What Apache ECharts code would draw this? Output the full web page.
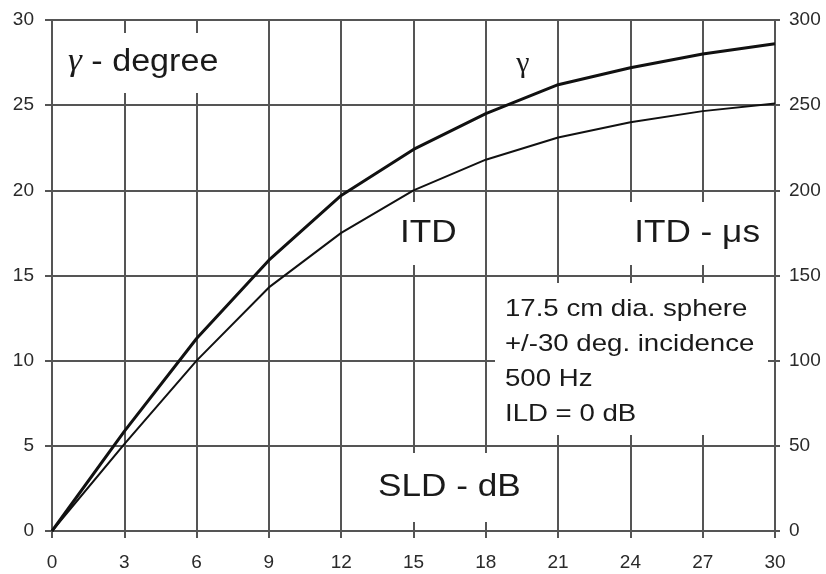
<!DOCTYPE html>
<html>
<head>
<meta charset="utf-8">
<script src="https://cdn.jsdelivr.net/npm/echarts@6/dist/echarts.min.js"></script>
<style>html,body{margin:0;padding:0;background:#fff;}#c{width:826px;height:574px;}</style>
</head>
<body>
<div id="c"></div>
<script>
// SLD - dB
const sld = [0, 3, 6, 9, 12, 15, 18, 21, 24, 27, 30];
// gamma - degree (left axis)
const gamma = [0, 5.85, 11.3, 15.9, 19.7, 22.4, 24.5, 26.2, 27.2, 28.0, 28.6];
// ITD - microseconds (right axis)
const itd = [0, 51, 100, 143, 175, 200, 218, 231, 240, 246.5, 251];

const leftTicks = [0, 5, 10, 15, 20, 25, 30];
const rightTicks = [0, 50, 100, 150, 200, 250, 300];
const xTicks = [0, 3, 6, 9, 12, 15, 18, 21, 24, 27, 30];

const noteLines = ['17.5 cm dia. sphere', '+/-30 deg. incidence', '500 Hz', 'ILD = 0 dB'];

const font = 'Liberation Sans, Arial, sans-serif';
const serif = 'Liberation Serif, Times New Roman, serif';
const gridColor = '#555';
const textColor = '#1a1a1a';

const chart = echarts.init(document.getElementById('c'));

function box(x, y, w, h) {
  return { type: 'rect', z: 1, shape: { x: x, y: y, width: w, height: h }, style: { fill: '#fff' }, silent: true };
}
function label(text, x, y, size, align, fam, sx, rich) {
  return { type: 'text', z: 10, x: x, y: y, scaleX: sx || 1.1, originX: 0, originY: 0,
    style: { text: text, fontSize: size, fontFamily: fam || font, fill: textColor, textAlign: align || 'left', textVerticalAlign: 'middle', rich: rich } };
}

const graphics = [
  box(58, 33, 187, 60),
  box(393, 202, 77, 63),
  box(615, 202, 155, 63),
  box(495, 283, 273, 152),
  box(365, 453, 170, 69),
  label('{g|\u03b3} - degree', 68, 62, 31, 'left', font, 1.1,
    { g: { fontFamily: serif, fontSize: 32, fill: textColor, fontStyle: 'italic' } }),
  label('\u03b3', 523, 64, 30, 'center', serif, 1.0),
  label('ITD', 400, 233, 32, 'left'),
  label('ITD - \u03bcs', 760, 233, 32, 'right'),
  label('SLD - dB', 378, 487, 32, 'left'),
];
noteLines.forEach(function (t, i) {
  graphics.push(label(t, 505, 309 + i * 35, 24, 'left', font, 1.15));
});

chart.setOption({
  animation: false,
  backgroundColor: '#fff',
  grid: { left: 52, right: 51, top: 20, bottom: 43 },
  xAxis: {
    type: 'value', min: xTicks[0], max: xTicks[xTicks.length - 1], interval: 3,
    axisLine: { show: true, onZero: false, lineStyle: { color: gridColor, width: 2 } },
    axisTick: { show: true, length: 7, lineStyle: { color: gridColor, width: 2 } },
    axisLabel: { fontSize: 19, color: '#2a2a2a', fontFamily: font, margin: 22 },
    splitLine: { show: true, lineStyle: { color: gridColor, width: 2 } }
  },
  yAxis: [
    {
      type: 'value', min: leftTicks[0], max: leftTicks[leftTicks.length - 1], interval: 5, position: 'left',
      axisLine: { show: true, lineStyle: { color: gridColor, width: 2 } },
      axisTick: { show: true, length: 7, lineStyle: { color: gridColor, width: 2 } },
      axisLabel: { fontSize: 19, color: '#2a2a2a', fontFamily: font, margin: 18 },
      splitLine: { show: true, lineStyle: { color: gridColor, width: 2 } }
    },
    {
      type: 'value', min: rightTicks[0], max: rightTicks[rightTicks.length - 1], interval: 50, position: 'right',
      axisLine: { show: true, lineStyle: { color: gridColor, width: 2 } },
      axisTick: { show: true, length: 5, lineStyle: { color: gridColor, width: 2 } },
      axisLabel: { fontSize: 19, color: '#2a2a2a', fontFamily: font, margin: 14 },
      splitLine: { show: false }
    }
  ],
  series: [
    {
      name: 'gamma', type: 'line', yAxisIndex: 0, z: 5,
      data: sld.map(function (x, i) { return [x, gamma[i]]; }),
      symbol: 'none', lineStyle: { color: '#111', width: 3 }
    },
    {
      name: 'ITD', type: 'line', yAxisIndex: 1, z: 5,
      data: sld.map(function (x, i) { return [x, itd[i]]; }),
      symbol: 'none', lineStyle: { color: '#111', width: 2 }
    }
  ],
  graphic: graphics
});
</script>
</body>
</html>
